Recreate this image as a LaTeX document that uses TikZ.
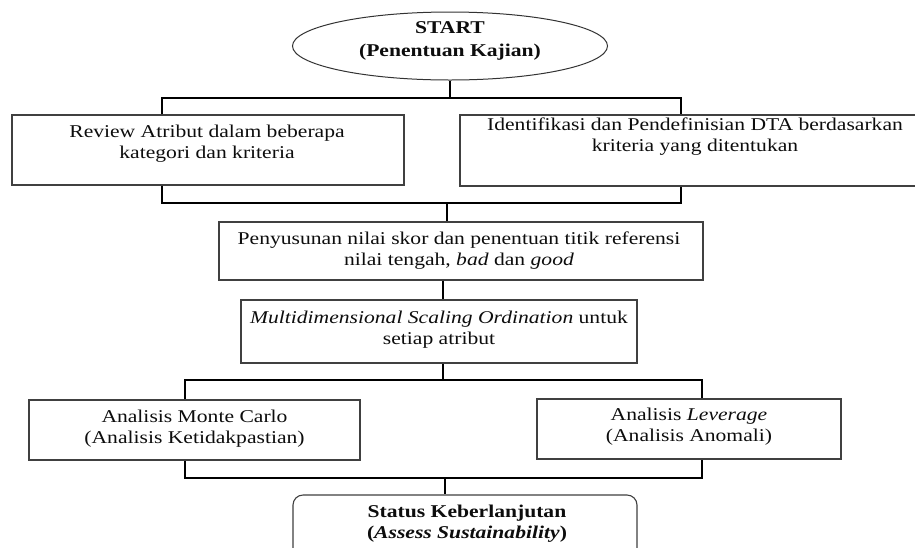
\documentclass[tikz,border=0pt]{standalone}
\usepackage{fontspec}
\setmainfont{Liberation Serif}[FakeStretch=1.2]
\usetikzlibrary{shapes.geometric}
\begin{document}
\begin{tikzpicture}[x=1pt,y=-1pt,
  box/.style={draw=black!75, line width=1.1pt, rectangle, inner sep=0pt},
  startshape/.style={draw=black!80, line width=1pt, ellipse, inner sep=0pt, minimum width=315pt, minimum height=68pt},
  conn/.style={draw=black, line width=1.8pt},
  txt/.style={align=center, inner sep=0pt, anchor=north, text=black!95, font=\fontsize{18}{21}\selectfont},
  btxt/.style={txt, font=\bfseries\fontsize{18}{23}\selectfont},
]
\clip (0,0) rectangle (915,547);
\fill[white] (0,0) rectangle (915,547);

% shapes
\node[startshape] (start) at (450,46) {};
\node[box, minimum width=392pt, minimum height=70pt] (b1) at (208,150) {};
\node[box, minimum width=470pt, minimum height=71pt] (b2) at (695,150.5) {};
\node[box, minimum width=484pt, minimum height=58pt] (b3) at (461,251) {};
\node[box, minimum width=396pt, minimum height=63pt] (b4) at (439,331.5) {};
\node[box, minimum width=331pt, minimum height=60pt] (b5) at (194.5,430) {};
\node[box, minimum width=304pt, minimum height=60pt] (b6) at (689,429) {};
\node[box, rounded corners=10pt, minimum width=344pt, minimum height=80pt] (b7) at (465,535) {};

% texts
\node[btxt] (t0) at (450,21) {START\\(Penentuan Kajian)};
\node[txt] (t1) at (207,124.5) {Review Atribut dalam beberapa\\kategori dan kriteria};
\node[txt] (t2) at (695,117.5) {Identifikasi dan Pendefinisian DTA berdasarkan\\kriteria yang ditentukan};
\node[txt] (t3) at (459,231.5) {Penyusunan nilai skor dan penentuan titik referensi\\nilai tengah, \textit{bad} dan \textit{good}};
\node[txt] (t4) at (439,310.5) {\textit{Multidimensional Scaling Ordination} untuk\\setiap atribut};
\node[txt] (t5) at (194.5,409.5) {Analisis Monte Carlo\\(Analisis Ketidakpastian)};
\node[txt] (t6) at (689,407.5) {Analisis \textit{Leverage}\\(Analisis Anomali)};
\node[btxt, font=\bfseries\fontsize{18}{21}\selectfont] (t7) at (467,504.5) {Status Keberlanjutan\\(\textit{Assess Sustainability})};

% junction coordinates
\coordinate (c1) at (162,0);
\coordinate (c2) at (681,0);
\coordinate (c3) at (443,0);
\coordinate (c4) at (185,0);
\coordinate (c5) at (702,0);
\coordinate (j1) at (450,98);
\coordinate (j2) at (447,203);
\coordinate (j3) at (443,380);
\coordinate (j4) at (445,478);

% connectors
\draw[conn] (start.south) -- (j1);
\draw[conn] (b1.north -| c1) |- (j1) -| (b2.north -| c2);
\draw[conn] (b1.south -| c1) |- (j2) -| (b2.south -| c2);
\draw[conn] (j2) -- (b3.north -| j2);
\draw[conn] (b3.south -| c3) -- (b4.north -| c3);
\draw[conn] (b4.south -| c3) -- (j3);
\draw[conn] (b5.north -| c4) |- (j3) -| (b6.north -| c5);
\draw[conn] (b5.south -| c4) |- (j4) -| (b6.south -| c5);
\draw[conn] (j4) -- (b7.north -| j4);
\end{tikzpicture}
\end{document}
